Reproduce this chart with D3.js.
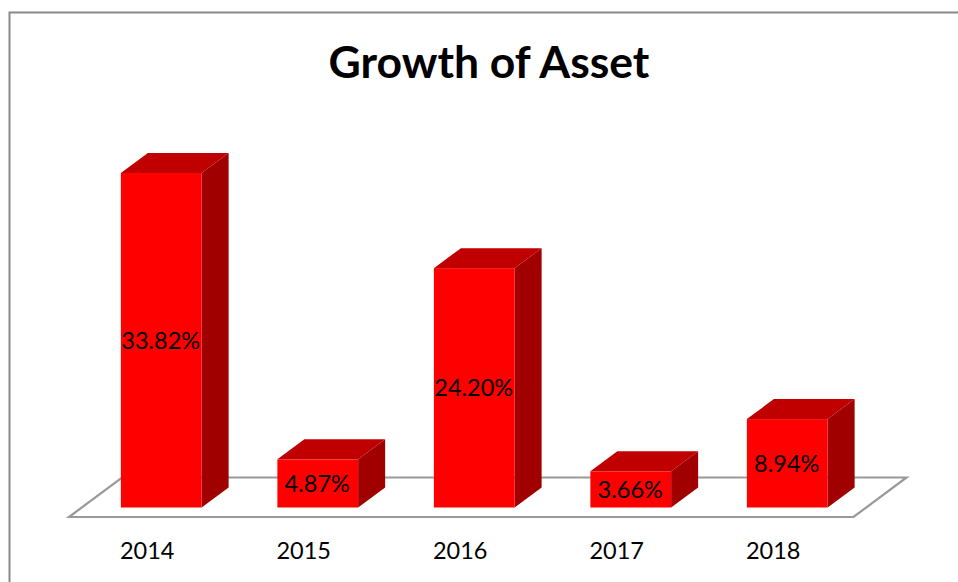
<!DOCTYPE html>
<html><head><meta charset="utf-8">
<script src="https://cdn.jsdelivr.net/npm/d3@7"></script>
<style>html,body{margin:0;padding:0;background:#fff}svg{display:block}text{font-family:Lato,"Open Sans",sans-serif;fill:#000}</style>
</head><body><svg id="c" width="958" height="582"></svg>
<script>
const titleText = "Growth of Asset";
const years = ["2014","2015","2016","2017","2018"];
const growth = [33.82,4.87,24.20,3.66,8.94];

const svg = d3.select("#c");
const W=958,H=582;
// chart frame
svg.append("path").attr("d",`M9.5,${H}V12.5H${W}`).attr("fill","none").attr("stroke","#8a8a8a").attr("stroke-width",2);
svg.append("text").attr("x",489).attr("y",78).attr("text-anchor","middle").attr("font-size",44.5).attr("font-weight",700).text(titleText);

const floorL=69, floorR=853.5, floorFront=517, floorBack=477.5, floorDx=53;
// floor
svg.append("path").attr("d",`M${floorL},${floorFront}H${floorR}L${floorR+floorDx},${floorBack}H${floorL+floorDx}Z`)
  .attr("fill","#fff").attr("stroke","#999").attr("stroke-width",2.2).attr("stroke-linejoin","miter");

const x=d3.scaleBand().domain(years).range([83,83+156.5*5]).paddingInner(0.484).paddingOuter(0.242);
const y=d3.scaleLinear().domain([0,33.82]).range([507.5,173]);
const dx=27,dy=20;
const g=svg.selectAll("g.bar").data(years.map((k,i)=>({k,v:growth[i]}))).join("g").attr("class","bar");
g.append("path").attr("fill","#a00000")
 .attr("d",d=>{const r=x(d.k)+x.bandwidth();return `M${r},${y(d.v)}l${dx},${-dy}V${y(0)-dy}l${-dx},${dy}Z`});
g.append("path").attr("fill","#c00000")
 .attr("d",d=>{const l=x(d.k),w=x.bandwidth();return `M${l},${y(d.v)}l${dx},${-dy}h${w}l${-dx},${dy}Z`});
g.append("rect").attr("fill","#ff0000")
 .attr("x",d=>x(d.k)).attr("y",d=>y(d.v)).attr("width",x.bandwidth()).attr("height",d=>y(0)-y(d.v));
g.append("text").attr("x",d=>x(d.k)+x.bandwidth()/2-0.5).attr("y",d=>(y(d.v)+y(0))/2+8.5)
 .attr("text-anchor","middle").attr("font-size",23.5).text(d=>d.v.toFixed(2)+"%");
// category axis labels
const axis=d3.axisBottom(x).tickSize(0).tickPadding(0);
const ag=svg.append("g").attr("transform","translate(-14,542)").call(axis);
ag.select(".domain").remove();
ag.selectAll("text").attr("font-size",23.5).attr("font-family",'Lato,"Open Sans",sans-serif').attr("fill","#000");
</script></body></html>
